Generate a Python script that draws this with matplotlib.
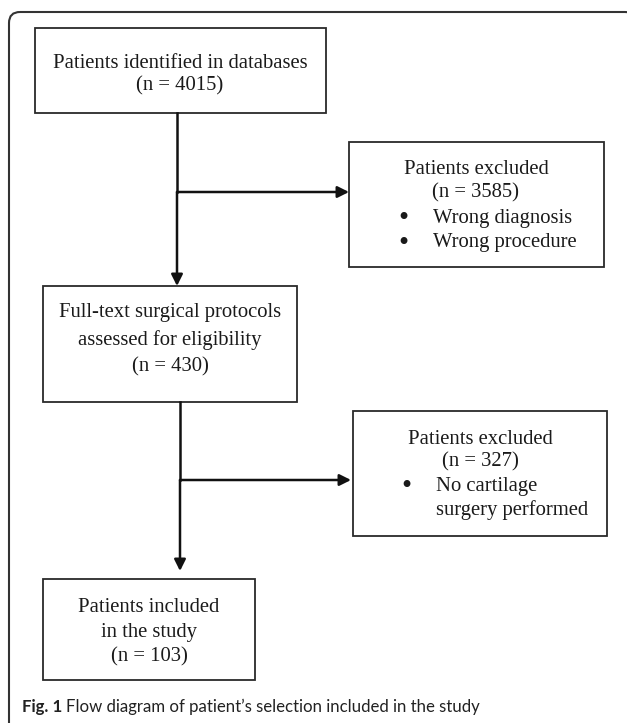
import matplotlib
matplotlib.use('Agg')
import matplotlib.pyplot as plt
from matplotlib.patches import Rectangle, FancyBboxPatch

# flow numbers
counts = [4015, 3585, 430, 327, 103]

identified_lines = ['Patients identified in databases', f'(n = {counts[0]})']
excluded1_lines = ['Patients excluded', f'(n = {counts[1]})']
excluded1_bullets = ['Wrong diagnosis', 'Wrong procedure']
eligible_lines = ['Full-text surgical protocols', 'assessed for eligibility', f'(n = {counts[2]})']
excluded2_lines = ['Patients excluded', f'(n = {counts[3]})']
excluded2_bullets = ['No cartilage', 'surgery performed']
included_lines = ['Patients included', 'in the study', f'(n = {counts[4]})']

caption_bold = 'Fig. 1'
caption_text = 'Flow diagram of patient\u2019s selection included in the study'

SERIF = 'Liberation Serif'
FS = 14.9

fig = plt.figure(figsize=(6.27, 7.23), dpi=100)
ax = fig.add_axes([0, 0, 1, 1])
ax.set_xlim(0, 627)
ax.set_ylim(723, 0)
ax.axis('off')

# outer rounded frame (runs off the right and bottom edges)
frame = FancyBboxPatch((9, 12), 627, 800, boxstyle='round,pad=0,rounding_size=11',
                       fill=False, edgecolor='#333333', lw=1.5)
ax.add_patch(frame)


def box(x0, y0, x1, y1):
    ax.add_patch(Rectangle((x0, y0), x1 - x0, y1 - y0, fill=False,
                           edgecolor='#2a2a2a', lw=1.3))


def centered(lines, xc, ys):
    for txt, y in zip(lines, ys):
        ax.text(xc, y, txt, ha='center', va='center', family=SERIF, fontsize=FS, color='#1a1a1a')


def bullets(items, xb, xt, ys, first_only=False):
    for i, (txt, y) in enumerate(zip(items, ys)):
        if i == 0 or not first_only:
            ax.text(xb, y + 1, '\u2022', ha='center', va='center', family=SERIF, fontsize=21, color='#1a1a1a')
        ax.text(xt, y, txt, ha='left', va='center', family=SERIF, fontsize=FS, color='#1a1a1a')


def arrow(x0, y0, x1, y1):
    ax.annotate('', xy=(x1, y1), xytext=(x0, y0),
                arrowprops=dict(arrowstyle='-|>', color='#111111', lw=1.8,
                                mutation_scale=17, shrinkA=0, shrinkB=0))


# boxes
box(35, 28, 326, 113)
box(349, 142, 604, 267)
box(43, 286, 297, 402)
box(353, 411, 607, 536)
box(43, 579, 255, 680)

centered(identified_lines, 180, [63, 86])
centered(excluded1_lines, 476, [170, 193])
bullets(excluded1_bullets, 403, 433, [218, 243])
centered(eligible_lines, 170, [313, 340, 367])
centered(excluded2_lines, 480, [439, 462])
bullets(excluded2_bullets, 406, 436, [486, 510], first_only=True)
centered(included_lines, 149, [607, 632, 657])

# connectors
ax.plot([177, 177], [113, 192], color='#111111', lw=1.8)
arrow(177, 192, 177, 286)
arrow(177, 192, 349, 192)
ax.plot([180, 180], [402, 480], color='#111111', lw=1.8)
arrow(180, 480, 180, 571)
arrow(180, 480, 351, 480)

# caption
t1 = ax.text(22, 707, caption_bold, ha='left', va='center', family='Lato',
             fontweight='bold', fontsize=12.1, color='#222222')
fig.canvas.draw()
bb = t1.get_window_extent()
x_end = ax.transData.inverted().transform((bb.x1, bb.y0))[0]
ax.text(x_end + 4, 707, caption_text, ha='left', va='center', family='Lato',
        fontsize=12.1, color='#222222')

fig.savefig('out.png', dpi=100)
